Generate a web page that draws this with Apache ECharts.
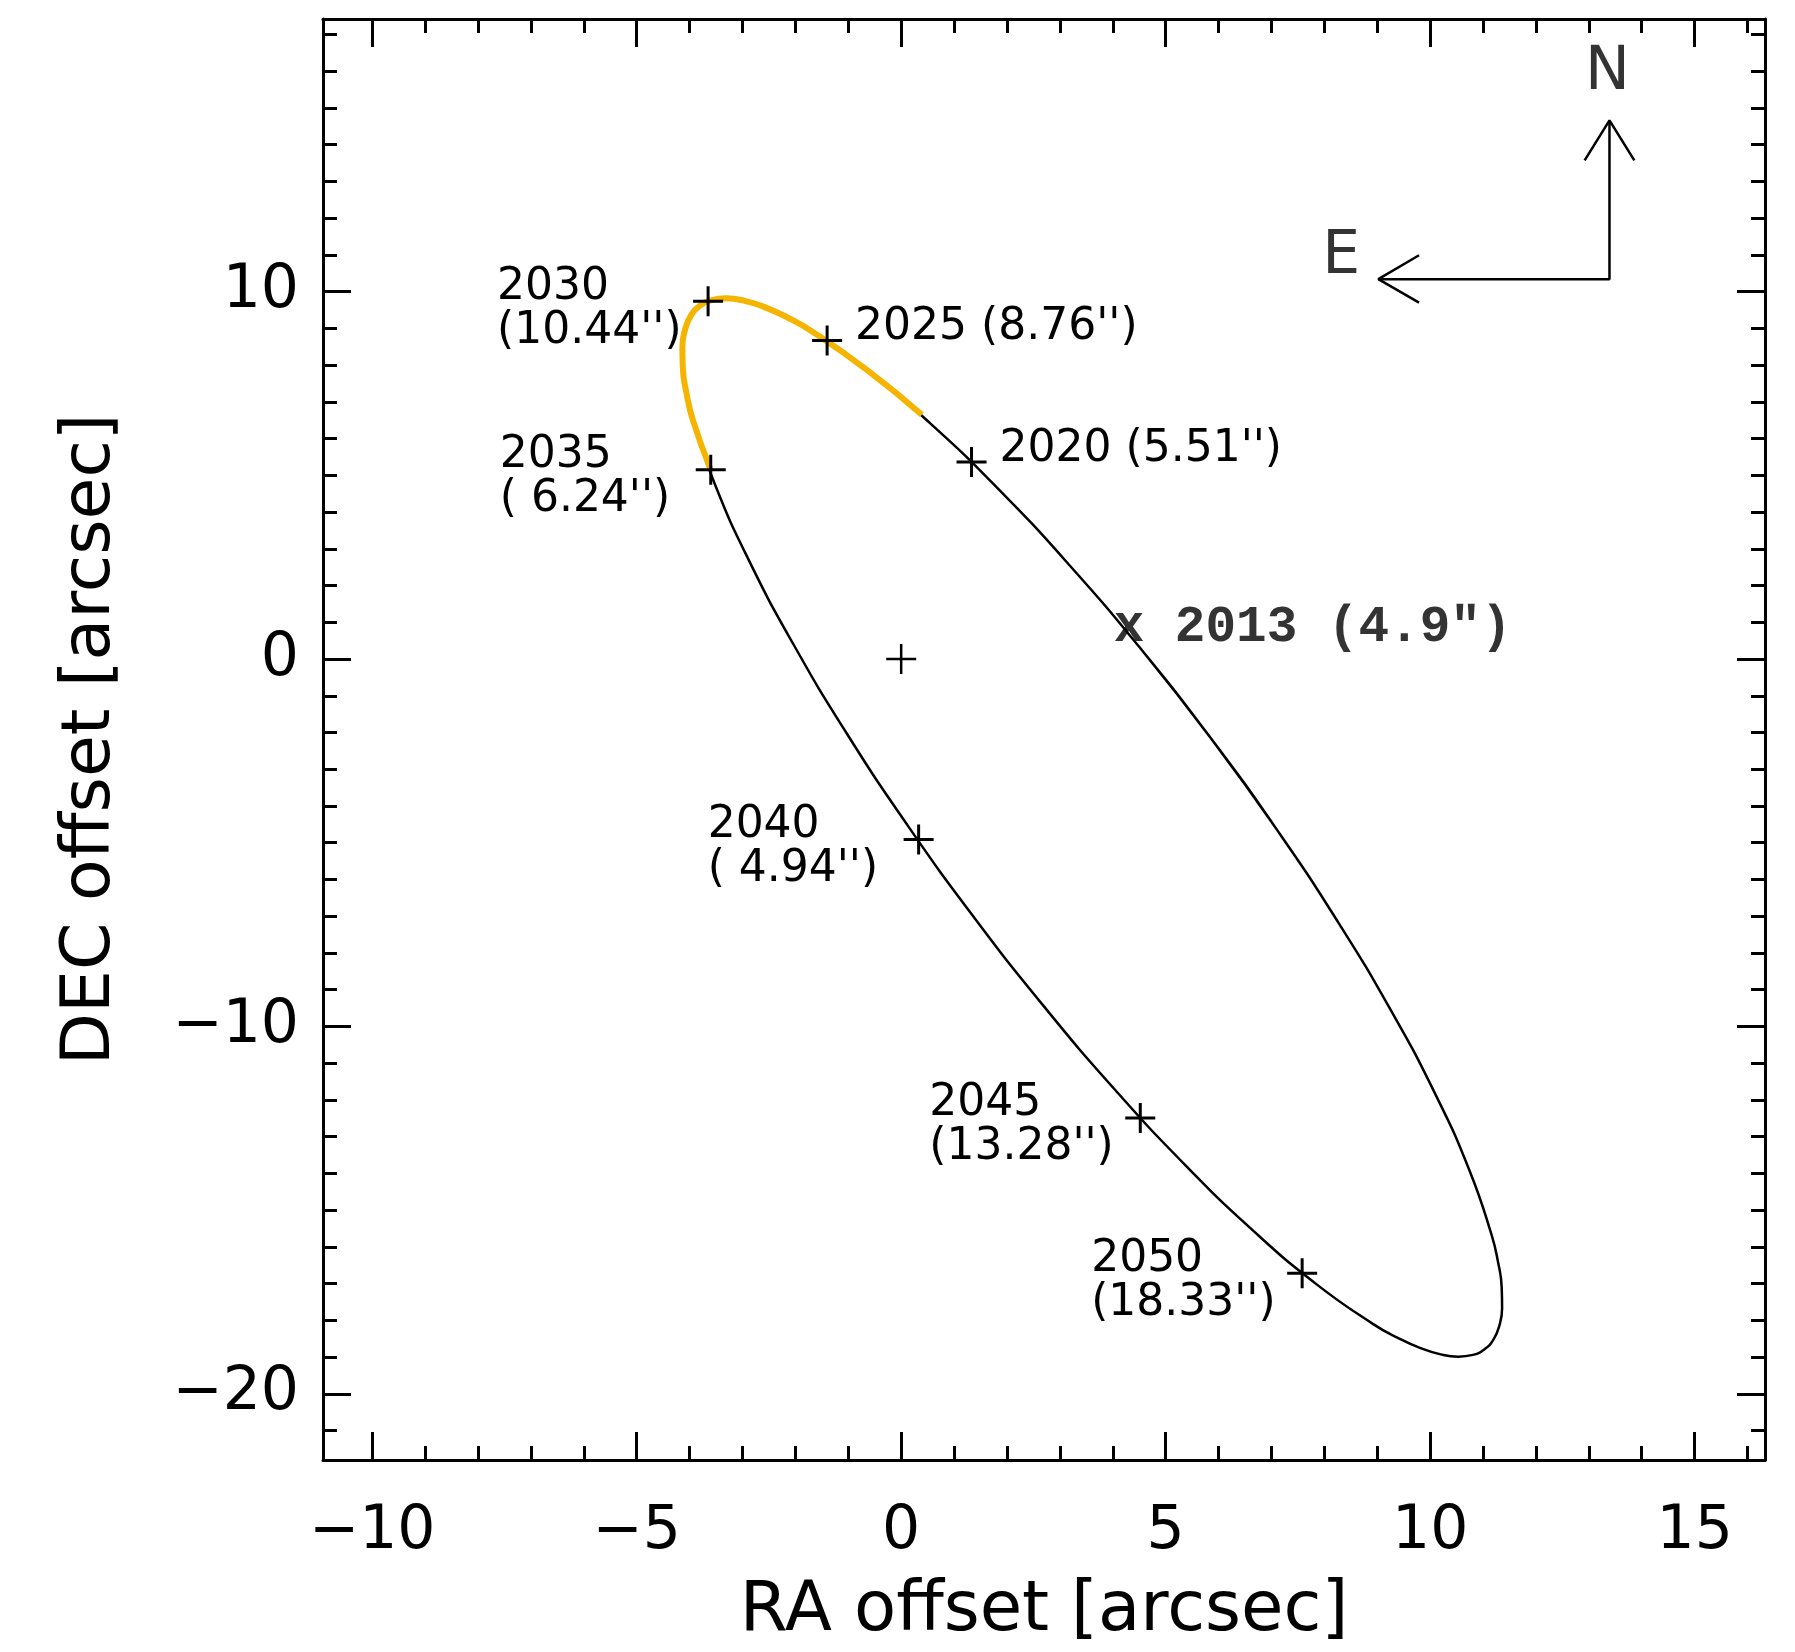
<!DOCTYPE html>
<html>
<head>
<meta charset="utf-8">
<title>Orbit</title>
<script src="https://cdn.jsdelivr.net/npm/echarts@6/dist/echarts.min.js"></script>
<style>
html, body { margin: 0; padding: 0; background: #fff; }
#container { width: 1795px; height: 1652px; }
</style>
</head>
<body>
<div id="container"></div>
<script>
// projected orbit, RA / DEC offsets in arcsec
// (starts and ends on the straight right-hand side so the loop closes cleanly,
//  denser points at the two sharp ends)
var orbitRA = [7.109, 5.855, 4.533, 3.182, 1.844, 0.560, -0.630, -1.692, -2.165, -2.594, -2.975, -3.306, -3.585, -3.808,
    -3.976, -4.084, -4.136, -4.128, -4.061, -3.936, -3.514, -2.876, -2.040, -1.034, 0.115, 1.369, 2.691, 4.042, 5.380,
    6.664, 7.854, 8.916, 9.389, 9.818, 10.199, 10.530, 10.809, 11.032, 11.199, 11.308, 11.360, 11.352, 11.285, 11.160,
    10.738, 10.100, 9.264, 8.258, 7.109, 5.855, 4.533];
var orbitDEC = [-4.657, -2.156, 0.271, 2.553, 4.617, 6.401, 7.850, 8.924, 9.308, 9.586, 9.756, 9.817, 9.769, 9.611,
    9.345, 8.973, 8.498, 7.924, 7.255, 6.494, 4.728, 2.679, 0.409, -2.013, -4.513, -7.014, -9.441, -11.723, -13.787,
    -15.571, -17.020, -18.094, -18.478, -18.756, -18.926, -18.987, -18.939, -18.781, -18.515, -18.143, -17.669, -17.094, -16.425, -15.664,
    -13.898, -11.849, -9.579, -7.157, -4.657, -2.156, 0.271];

// orange part of the orbit, 2035 back to about 2022
var arcRA = [0.39, -0.630, -1.692, -2.165, -2.594, -2.975, -3.306, -3.585, -3.808, -3.976, -4.084, -4.136, -4.128, -4.061, -3.936, -3.60];
var arcDEC = [6.65, 7.850, 8.924, 9.308, 9.586, 9.756, 9.817, 9.769, 9.611, 9.345, 8.973, 8.498, 7.924, 7.255, 6.494, 5.15];

// yearly positions and separations
var years = ['2020', '2025', '2030', '2035', '2040', '2045', '2050'];
var yearSep = ['5.51', '8.76', '10.44', '6.24', '4.94', '13.28', '18.33'];
var yearRA = [1.33, -1.40, -3.65, -3.60, 0.33, 4.52, 7.58];
var yearDEC = [5.36, 8.67, 9.74, 5.15, -4.91, -12.49, -16.72];

// 2013 observation
var obsYear = '2013';
var obsSep = '4.9';
var obsRA = 4.30;
var obsDEC = 0.72;

// primary star
var starRA = 0;
var starDEC = 0;

// N / E compass
var compassRA = [9.02, 13.39, 13.39];
var compassDEC = [10.34, 10.34, 14.66];
var northHeadRA = [12.92, 13.39, 13.86];
var northHeadDEC = [13.57, 14.66, 13.57];
var eastHeadRA = [9.79, 9.02, 9.79];
var eastHeadDEC = [10.99, 10.34, 9.70];
var compassLetters = ['N', 'E'];
var letterRA = [13.35, 8.32];
var letterDEC = [15.95, 10.92];

// axes
var xRange = [-10.93, 16.33];
var yRange = [-21.8, 17.42];
var xMajor = [-10, -5, 0, 5, 10, 15];
var xMinor = [-10, -9, -8, -7, -6, -5, -4, -3, -2, -1, 0, 1, 2, 3, 4, 5, 6, 7, 8, 9, 10, 11, 12, 13, 14, 15, 16];
var yMajor = [-20, -10, 0, 10];
var yMinor = [-21, -20, -19, -18, -17, -16, -15, -14, -13, -12, -11, -10, -9, -8, -7, -6, -5, -4, -3, -2, -1,
    0, 1, 2, 3, 4, 5, 6, 7, 8, 9, 10, 11, 12, 13, 14, 15, 16, 17];

var FONT = 'DejaVu Sans';

function pairs(xs, ys) {
    var out = [];
    for (var i = 0; i < xs.length; i++) {
        out.push([xs[i], ys[i]]);
    }
    return out;
}

function frameAxis(pos, range, ticks, len, withLabels) {
    return {
        type: 'value',
        position: pos,
        min: range[0],
        max: range[1],
        axisLine: { show: len > 20, onZero: false, lineStyle: { color: '#000', width: 3 } },
        axisTick: { show: true, inside: true, length: len, customValues: ticks, lineStyle: { color: '#000', width: 3 } },
        axisLabel: {
            show: withLabels,
            customValues: ticks,
            color: '#000',
            fontFamily: FONT,
            fontSize: 60,
            formatter: function(v) {
                return String(v).replace('-', '\u2212');
            }
        },
        splitLine: { show: false },
        minorTick: { show: false }
    };
}

var xBottom = frameAxis('bottom', xRange, xMajor, 28, true);
xBottom.axisLabel.margin = 42;
xBottom.name = 'RA offset [arcsec]';
xBottom.nameLocation = 'middle';
xBottom.nameGap = 118;
xBottom.nameTextStyle = { color: '#000', fontFamily: FONT, fontSize: 69 };

var yLeft = frameAxis('left', yRange, yMajor, 28, true);
yLeft.axisLabel.margin = 24;
yLeft.name = 'DEC offset [arcsec]';
yLeft.nameLocation = 'middle';
yLeft.nameGap = 198;
yLeft.nameTextStyle = { color: '#000', fontFamily: FONT, fontSize: 68 };

var plusSymbol = 'path://M15,0L15,30M0,15L30,15';

var yearData = years.map(function(y, i) {
    var twoLine = i >= 2;
    var sep = yearSep[i];
    var text = twoLine ? y + '\n(' + (sep.length < 5 ? ' ' + sep : sep) + "'')" : y + ' (' + sep + "'')";
    return {
        value: [yearRA[i], yearDEC[i]],
        label: { formatter: text, offset: twoLine ? [-211, 8] : [28, -13] }
    };
});

var lineBase = { type: 'line', symbol: 'none', silent: true, animation: false, xAxisIndex: 0, yAxisIndex: 0 };

function lineSeries(name, data, color, width, smooth, z) {
    return Object.assign({}, lineBase, {
        name: name,
        data: data,
        smooth: smooth,
        z: z,
        lineStyle: { color: color, width: width }
    });
}

var option = {
    backgroundColor: '#fff',
    animation: false,
    grid: { left: 323, top: 19, right: 30, bottom: 191, containLabel: false },
    xAxis: [
        xBottom,
        frameAxis('bottom', xRange, xMinor, 14, false),
        frameAxis('top', xRange, xMajor, 28, false),
        frameAxis('top', xRange, xMinor, 14, false)
    ],
    yAxis: [
        yLeft,
        frameAxis('left', yRange, yMinor, 14, false),
        frameAxis('right', yRange, yMajor, 28, false),
        frameAxis('right', yRange, yMinor, 14, false)
    ],
    series: [
        lineSeries('orbit', pairs(orbitRA, orbitDEC), '#000', 2.5, 0.5, 2),
        lineSeries('2022-2035', pairs(arcRA, arcDEC), '#F4B400', 6, 0.5, 3),
        lineSeries('compass', pairs(compassRA, compassDEC), '#000', 2.5, false, 2),
        lineSeries('north head', pairs(northHeadRA, northHeadDEC), '#000', 2.5, false, 2),
        lineSeries('east head', pairs(eastHeadRA, eastHeadDEC), '#000', 2.5, false, 2),
        {
            type: 'scatter',
            name: 'years',
            silent: true,
            z: 5,
            symbol: plusSymbol,
            symbolSize: 30,
            itemStyle: { color: 'rgba(0,0,0,0)', borderColor: '#000', borderWidth: 3, opacity: 1 },
            label: {
                show: true,
                position: 'inside',
                align: 'left',
                verticalAlign: 'middle',
                color: '#000',
                fontFamily: FONT,
                fontSize: 44,
                lineHeight: 44
            },
            data: yearData
        },
        {
            type: 'scatter',
            name: 'star',
            silent: true,
            z: 5,
            symbol: plusSymbol,
            symbolSize: 30,
            itemStyle: { color: 'rgba(0,0,0,0)', borderColor: '#000', borderWidth: 2.5, opacity: 1 },
            data: [[starRA, starDEC]]
        },
        {
            type: 'scatter',
            name: obsYear,
            silent: true,
            z: 6,
            symbol: 'circle',
            symbolSize: 1,
            itemStyle: { color: 'rgba(0,0,0,0)' },
            label: {
                show: true,
                position: 'inside',
                align: 'left',
                verticalAlign: 'middle',
                offset: [-15, -4],
                color: '#000',
                fontFamily: 'Liberation Mono',
                fontWeight: 'bold',
                fontSize: 51,
                formatter: 'x ' + obsYear + ' (' + obsSep + '")'
            },
            data: [[obsRA, obsDEC]]
        },
        {
            type: 'scatter',
            name: 'compass letters',
            silent: true,
            z: 6,
            symbol: 'circle',
            symbolSize: 1,
            itemStyle: { color: 'rgba(0,0,0,0)' },
            label: {
                show: true,
                position: 'inside',
                color: '#000',
                fontFamily: FONT,
                fontSize: 60,
                formatter: function(p) {
                    return compassLetters[p.dataIndex];
                }
            },
            data: pairs(letterRA, letterDEC)
        }
    ]
};

var myChart = echarts.init(document.getElementById('container'), null, { renderer: 'canvas' });
myChart.setOption(option);
</script>
</body>
</html>
